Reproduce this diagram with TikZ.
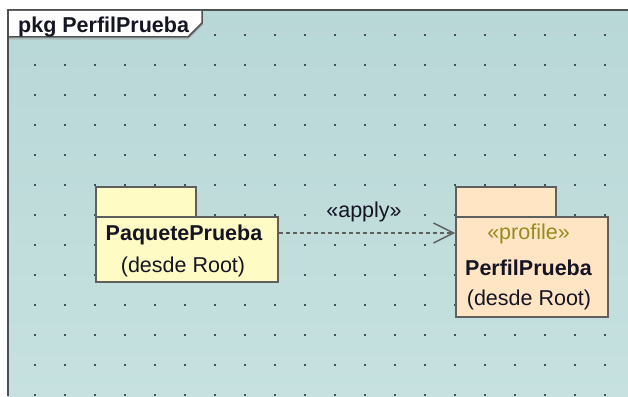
\documentclass[tikz,border=0pt]{standalone}
\usepackage{fontspec}
\setmainfont{Liberation Sans}
\usetikzlibrary{arrows.meta}
\definecolor{bgtop}{RGB}{184,215,215}
\definecolor{bgbot}{RGB}{198,225,223}
\definecolor{frameline}{RGB}{80,80,80}
\definecolor{pkgline}{RGB}{95,95,95}
\definecolor{yellowfill}{RGB}{255,251,196}
\definecolor{peachfill}{RGB}{255,229,196}
\definecolor{stereo}{RGB}{150,140,30}
\definecolor{dotc}{RGB}{70,82,82}
\definecolor{txt}{RGB}{20,20,35}
\begin{document}
\begin{tikzpicture}[x=1pt,y=-1pt,
  lbl/.style={anchor=base,inner sep=0pt,text=txt,font=\fontsize{21.5}{24}\selectfont},
  lblb/.style={lbl,font=\fontsize{21.5}{24}\selectfont\bfseries},
  pkgpart/.style={draw=pkgline,line width=1.6pt,inner sep=0pt,anchor=north west},
  dep/.style={draw=pkgline,line width=1.5pt,dash pattern=on 4.5pt off 2.5pt,
    -{Straight Barb[length=20pt,width=20pt,line width=1.4pt]}}
]
\useasboundingbox (0,0) rectangle (628,396);
\fill[white] (0,0) rectangle (628,396);
\shade[top color=bgtop,bottom color=bgbot] (8,10) rectangle (628,396);
% dot grid
\foreach \i in {0,...,19}{
  \foreach \j in {0,...,12}{
    \fill[dotc] ({34+30*\i},{34+30*\j}) rectangle ++(2,2);
  }
}
% frame
\draw[frameline,line width=2pt] (8,396) -- (8,10) -- (628,10);
% frame tab
\fill[white] (9,11) -- (202,11) -- (202,23) -- (188,37) -- (9,37) -- cycle;
\draw[gray!70,line width=1pt] (9,39) -- (188,39) -- (203,24);
\draw[frameline,line width=1.5pt] (8,37) -- (188,37) -- (202,23) -- (202,10);
\node[lblb,anchor=base west] (title) at (18,32.5) {pkg PerfilPrueba};
% PaquetePrueba
\node[pkgpart,fill=yellowfill,minimum width=100pt,minimum height=30pt] (pqtab) at (95,186) {};
\node[pkgpart,fill=yellowfill,minimum width=182pt,minimum height=65pt] (pqbody) at (95,216) {};
\node[lblb] (pqname) at (184,240) {PaquetePrueba};
\node[lbl] (pqfrom) at (183,272) {(desde Root)};
% PerfilPrueba
\node[pkgpart,fill=peachfill,minimum width=100pt,minimum height=30pt] (pftab) at (455,186) {};
\node[pkgpart,fill=peachfill,minimum width=152pt,minimum height=100pt] (pfbody) at (455,216) {};
\node[lbl,text=stereo] (pfstereo) at (528.5,239.5) {«profile»};
\node[lblb] (pfname) at (528.5,275) {PerfilPrueba};
\node[lbl] (pffrom) at (529,305.5) {(desde Root)};
% dependency
\draw[dep] ([yshift=-17pt]pqbody.north east) -- ([yshift=-17pt]pfbody.north west);
\node[lbl] (applylbl) at (364,217) {«apply»};
\end{tikzpicture}
\end{document}
